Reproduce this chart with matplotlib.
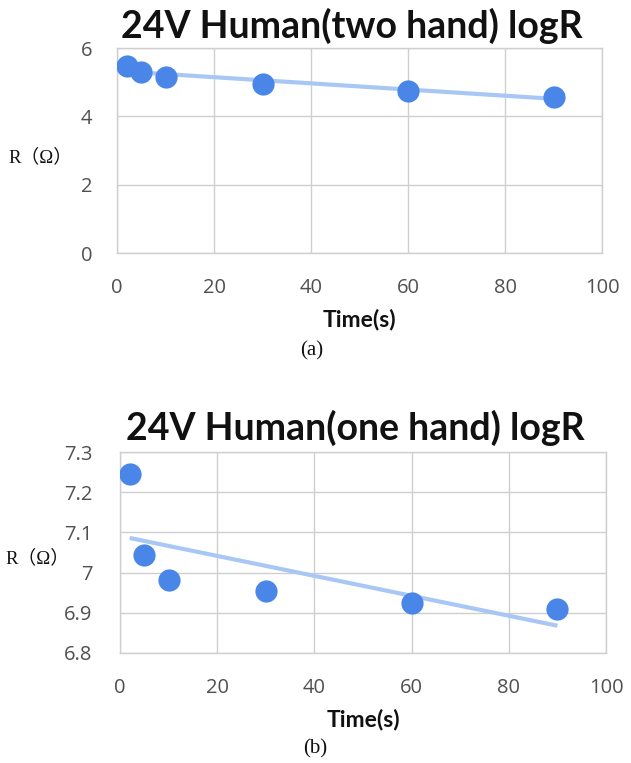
import numpy as np
import matplotlib
matplotlib.use("Agg")
import matplotlib.pyplot as plt

time_s = [2, 5, 10, 30, 60, 90]
two_hand_logR = [5.46, 5.31, 5.14, 4.94, 4.75, 4.58]
one_hand_logR = [7.246, 7.044, 6.982, 6.953, 6.924, 6.909]

title_a = "24V Human(two hand) logR"
title_b = "24V Human(one hand) logR"
xlabel = "Time(s)"
ylabel = "R\uff08\u03a9\uff09"
xticks = [0, 20, 40, 60, 80, 100]
yticks_a = [0, 2, 4, 6]
yticks_b = [6.8, 6.9, 7.0, 7.1, 7.2, 7.3]
yticklabels_b = ["6.8", "6.9", "7", "7.1", "7.2", "7.3"]
captions = ["(a)", "(b)"]

fig = plt.figure(figsize=(6.31, 7.63), dpi=100)

marker_color = "#4a86e8"
trend_color = "#a9c7f5"
grid_color = "#cfcfcf"
tick_color = "#505050"
title_font = "Lato"


def make_panel(rect, y, title, yticks, yticklabels, ylim, caption, title_y, xlab_y, cap_y, ylab_xy, ypad):
    ax = fig.add_axes(rect)
    ax.set_xlim(0, 100)
    ax.set_ylim(*ylim)
    ax.set_xticks(xticks)
    ax.set_yticks(yticks)
    ax.set_yticklabels(yticklabels)
    ax.grid(True, color=grid_color, linewidth=1.0)
    ax.set_axisbelow(True)
    for s in ax.spines.values():
        s.set_color(grid_color)
        s.set_linewidth(1.0)
    ax.tick_params(length=0, labelsize=14.5, colors=tick_color)
    ax.tick_params(axis="x", pad=18)
    ax.tick_params(axis="y", pad=ypad)
    for lab in ax.get_xticklabels() + ax.get_yticklabels():
        lab.set_fontfamily("Open Sans")
    # trendline (linear fit)
    coef = np.polyfit(time_s, y, 1)
    xs = np.array([time_s[0], time_s[-1]])
    ax.plot(xs, np.polyval(coef, xs), color=trend_color, linewidth=3, solid_capstyle="butt", zorder=2)
    ax.plot(time_s, y, "o", color=marker_color, markersize=16, markeredgewidth=0, zorder=3)
    fig.text(rect[0] + rect[2] / 2 - 0.012, title_y, title, ha="center", va="center",
             fontsize=27, fontweight="bold", fontfamily=title_font, color="#111111")
    fig.text(rect[0] + rect[2] / 2, xlab_y, xlabel, ha="center", va="center",
             fontsize=16.5, fontweight="bold", fontfamily=title_font, color="#111111")
    fig.text(rect[0] + rect[2] / 2 - 0.075, cap_y, caption, ha="center", va="center",
             fontsize=15, fontfamily="Liberation Serif", color="#111111")
    fig.text(ylab_xy[0], ylab_xy[1], ylabel, ha="left", va="center",
             fontsize=13.5, fontfamily=["Liberation Serif", "Noto Sans CJK SC"], color="#111111")
    return ax


make_panel([117 / 631, 1 - 253 / 763, 485 / 631, 205 / 763], two_hand_logR, title_a,
           yticks_a, [str(v) for v in yticks_a], (0, 6), captions[0],
           1 - 26 / 763, 1 - 320 / 763, 1 - 351 / 763, (8 / 631, 1 - 157 / 763), 18)

make_panel([120 / 631, 1 - 653 / 763, 486 / 631, 201 / 763], one_hand_logR, title_b,
           yticks_b, yticklabels_b, (6.8, 7.3), captions[1],
           1 - 428 / 763, 1 - 720 / 763, 1 - 749 / 763, (5 / 631, 1 - 558 / 763), 20)

fig.savefig("out.png", dpi=100, facecolor="white")
